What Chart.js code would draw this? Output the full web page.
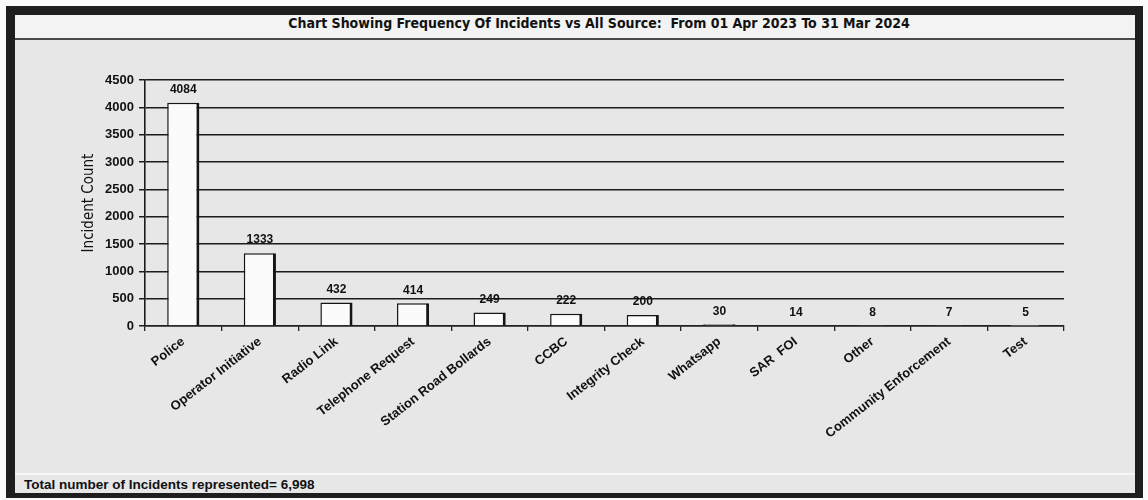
<!DOCTYPE html>
<html>
<head>
<meta charset="utf-8">
<script src="https://cdn.jsdelivr.net/npm/chart.js@4.4.1/dist/chart.umd.min.js"></script>
<style>
  html, body { margin: 0; padding: 0; background: #fafafa; }
  #page { position: relative; width: 1148px; height: 500px; overflow: hidden; }
  #frame {
    position: absolute; left: 6px; top: 6px; width: 1120px; height: 478px;
    border-style: solid; border-color: #1e1e1e;
    border-width: 9px 8px 5px 9px;
    background: #e7e7e7;
  }
  #titleBand {
    position: absolute; left: 0; top: 0; right: 0; height: 22px;
    background: #f3f3f3; border-bottom: 2px solid #4a4a4a;
    text-align: center; font: bold 14px "Liberation Sans Narrow", "DejaVu Sans Condensed", "Liberation Sans", sans-serif;
    line-height: 14px; padding-top: 1px; padding-left: 48px; box-sizing: content-box; color: #111;
  }
  #footer {
    position: absolute; left: 0; right: 0; bottom: 0; height: 18px;
    border-top: 2px solid #f6f6f6;
    font: bold 13.5px "Liberation Sans", Arial, sans-serif; color: #111;
    padding-left: 9px; line-height: 19px;
  }
  #chartBox { position: absolute; left: 0; top: 0; width: 1148px; height: 500px; }
</style>
</head>
<body>
<div id="page">
  <div id="frame">
    <div id="titleBand">Chart Showing Frequency Of Incidents vs All Source:&nbsp; From 01 Apr 2023 To 31 Mar 2024</div>
    <div id="footer"></div>
  </div>
  <div id="chartBox"><canvas id="incChart" width="1148" height="500"></canvas></div>
</div>
<script>
// ---------------- DATA ----------------
const sources = ['Police', 'Operator Initiative', 'Radio Link', 'Telephone Request', 'Station Road Bollards',
  'CCBC', 'Integrity Check', 'Whatsapp', 'SAR  FOI', 'Other', 'Community Enforcement', 'Test'];
const incidentCounts = [4084, 1333, 432, 414, 249, 222, 200, 30, 14, 8, 7, 5];
const yMin = 0;
const yMax = 4500;
const yStep = 500;

const total = incidentCounts.reduce((a, b) => a + b, 0);
document.getElementById('footer').textContent =
  'Total number of Incidents represented= ' + total.toLocaleString('en-GB');

Chart.defaults.font.family = '"Liberation Sans", Arial, sans-serif';
Chart.defaults.color = '#111';

// value labels above each bar
const barValues = {
  id: 'barValues',
  afterDatasetsDraw(chart) {
    const ctx = chart.ctx;
    const meta = chart.getDatasetMeta(0);
    ctx.save();
    ctx.font = 'bold 12px "Liberation Sans", Arial, sans-serif';
    ctx.fillStyle = '#111';
    ctx.textAlign = 'center';
    ctx.textBaseline = 'bottom';
    meta.data.forEach((bar, i) => {
      ctx.fillText(String(incidentCounts[i]), bar.x, bar.y - 7);
    });
    ctx.restore();
  }
};

new Chart(document.getElementById('incChart'), {
  type: 'bar',
  data: {
    labels: sources,
    datasets: [{
      data: incidentCounts,
      backgroundColor: '#fbfbfb',
      borderColor: '#151515',
      borderWidth: { top: 1.5, left: 1.5, right: 3, bottom: 0 },
      categoryPercentage: 1,
      barPercentage: 0.42
    }]
  },
  options: {
    responsive: false,
    animation: false,
    layout: { padding: { left: 76, right: 84, top: 80, bottom: 24 } },
    plugins: { legend: { display: false }, tooltip: { enabled: false } },
    scales: {
      x: {
        afterFit: (s) => { s.height = 150; },
        grid: { display: true, drawOnChartArea: false, drawTicks: true, tickLength: 5, color: '#222', lineWidth: 1.3 },
        border: { color: '#222', width: 1.5 },
        ticks: {
          autoSkip: false, minRotation: 38, maxRotation: 38, padding: 3,
          font: { size: 13, weight: 'bold' }, color: '#111'
        }
      },
      y: {
        min: yMin, max: yMax,
        afterFit: (s) => { s.width = 69; },
        grid: { color: '#1c1c1c', lineWidth: 1.5, tickLength: 6 },
        border: { color: '#1c1c1c', width: 1.6 },
        ticks: {
          stepSize: yStep, padding: 5, font: { size: 13, weight: 'bold' }, color: '#111',
          callback: (v) => String(v)
        },
        title: {
          display: true, text: 'Incident Count', color: '#111', padding: 4,
          font: { family: '"Liberation Sans Narrow", "DejaVu Sans Condensed", sans-serif', size: 15 }
        }
      }
    }
  },
  plugins: [barValues]
});
</script>
</body>
</html>
